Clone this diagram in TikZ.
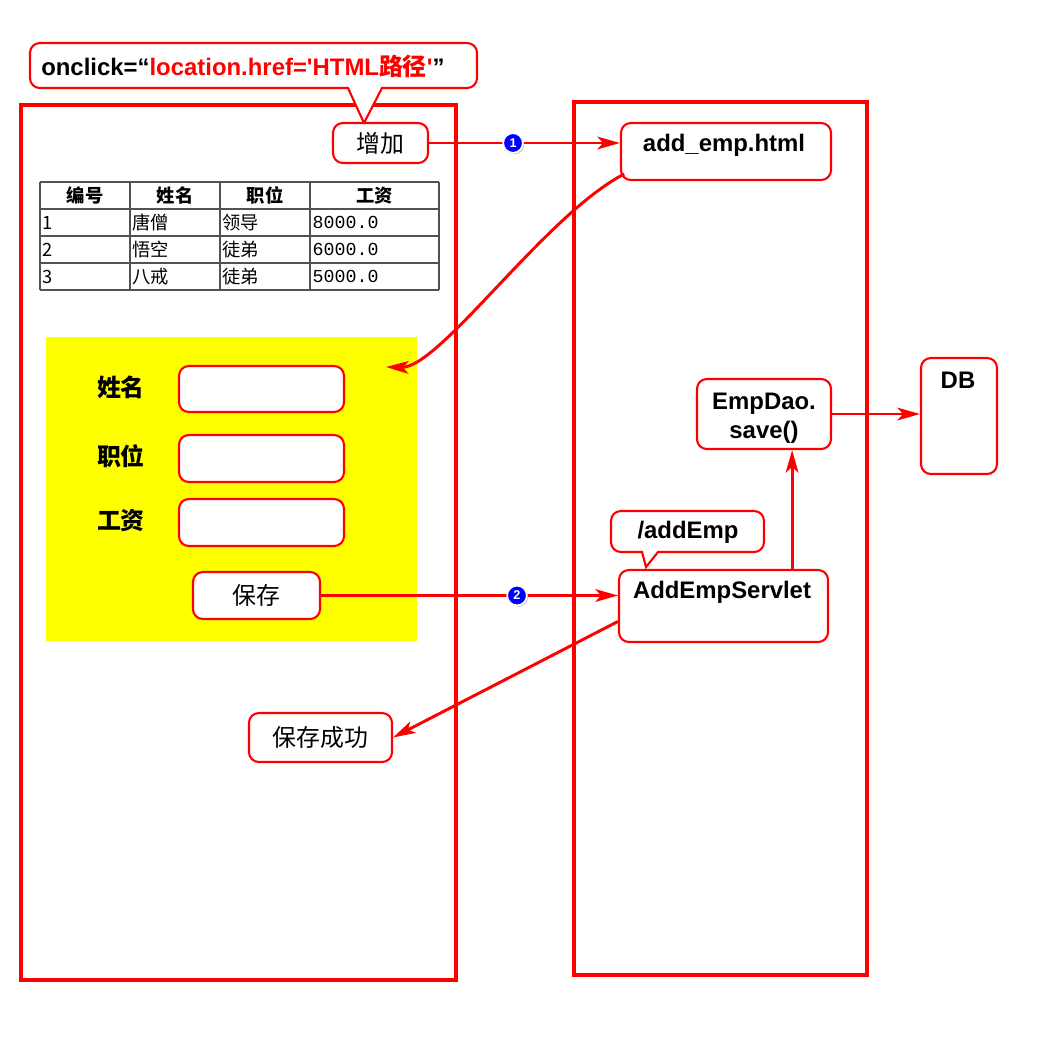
\documentclass[tikz,border=0pt]{standalone}
\usepackage{fontspec}
\setmainfont{Liberation Sans}
\newfontfamily\cjk{Noto Sans CJK SC}
\newfontfamily\mono{Liberation Mono}
\usetikzlibrary{arrows.meta,fit,shadows}
\definecolor{formyellow}{RGB}{255,255,0}

\begin{document}
\begin{tikzpicture}[x=0.025cm, y=-0.025cm, >={Stealth[length=16pt,width=9pt,inset=4pt]},
  frame/.style={draw=red, line width=2.8pt},
  box/.style={draw=red, line width=1.5pt, rounded corners=7pt, fill=white, inner sep=0pt},
  callout/.style={draw=red, line width=1.5pt, fill=white},
  conn/.style={draw=red, line width=2.1pt, ->},
  num/.style={circle, fill=blue, draw=white, line width=1.2pt, text=white, inner sep=0pt,
    minimum size=14pt, font=\bfseries\fontsize{9}{10}\selectfont,
    drop shadow={shadow xshift=1pt, shadow yshift=-1pt, opacity=0.45}},
  lbl/.style={font=\bfseries\fontsize{17}{21}\selectfont},
  cn/.style={font=\cjk\fontsize{17}{19}\selectfont},
  fl/.style={font=\cjk\bfseries\fontsize{17}{19}\selectfont},
  th/.style={font=\cjk\bfseries\fontsize{13}{15}\selectfont},
  td/.style={font=\cjk\fontsize{13}{15}\selectfont, anchor=west, inner sep=1pt},
  grid/.style={draw=black!68, line width=1.3pt}]
  \useasboundingbox (0,0) rectangle (1037,1042);

  % browser page and server
  \draw[frame] (21,105) rectangle (456,980);
  \draw[frame] (574,102) rectangle (867,975);

  % onclick callout
  \draw[callout] (200,43) [rounded corners=7pt] -- (477,43) -- (477,88) [sharp corners] -- (382,88)
    -- (364,123) -- (348,88) [rounded corners=7pt] -- (30,88) -- (30,43) -- cycle;
  \node[lbl, anchor=west, inner sep=0pt] (click) at (41,66)
    {onclick=“\textcolor{red}{location.href=\textquotesingle HTML{\cjk 路径}\textquotesingle}”};

  % add button
  \node[box, fit={(333,123) (428,163)}] (add) {};
  \node[cn] (addT) at (add.center) {增加};

  % employee table
  \foreach \x in {40,130,220,310,439} \draw[grid] (\x,182) -- (\x,290);
  \foreach \y in {182,209,236,263,290} \draw[grid] (40,\y) -- (439,\y);
  \node[th] (h1) at (85,195.5) {编号};
  \node[th] (h2) at (175,195.5) {姓名};
  \node[th] (h3) at (265,195.5) {职位};
  \node[th] (h4) at (374.5,195.5) {工资};
  \foreach \r/\id/\nm/\job/\pay in {1/1/唐僧/领导/8000.0, 2/2/悟空/徒弟/6000.0, 3/3/八戒/徒弟/5000.0} {
    \node[td] (id\r) at (41,{195.5+27*\r}) {\id};
    \node[td] (nm\r) at (131,{195.5+27*\r}) {\nm};
    \node[td] (job\r) at (221,{195.5+27*\r}) {\job};
    \node[td] (pay\r) at (311,{195.5+27*\r}) {\mono\pay};
  }

  % add form
  \fill[formyellow] (46,337) rectangle (417,641);
  \coordinate (formT) at (386,367);
  \node[fl] (fName) at (121,387) {姓名};
  \node[fl] (fJob) at (121,456) {职位};
  \node[fl] (fPay) at (121,521) {工资};
  \node[box, fit={(179,366) (344,412)}] (inName) {};
  \node[box, fit={(179,435) (344,482)}] (inJob) {};
  \node[box, fit={(179,499) (344,546)}] (inPay) {};
  \node[box, fit={(193,572) (320,619)}] (save) {};
  \node[cn] (saveT) at (save.center) {保存};

  % result message
  \node[box, fit={(249,713) (392,762)}] (ok) {};
  \node[cn] (okT) at (ok.center) {保存成功};

  % server side
  \node[box, fit={(621,123) (831,180)}] (html) {};
  \node[lbl] (htmlT) at (724,145) {add\_emp.html};
  \draw[callout] (688,511) [rounded corners=7pt] -- (764,511) -- (764,552) [sharp corners] -- (658,552)
    -- (646,567) -- (642,552) [rounded corners=7pt] -- (611,552) -- (611,511) -- cycle;
  \node[lbl] (url) at (688,532) {/addEmp};
  \node[box, fit={(619,570) (828,642)}] (servlet) {};
  \node[lbl] (servletT) at (722,592) {AddEmpServlet};
  \node[box, fit={(697,379) (831,449)}] (dao) {};
  \node[lbl, align=center] (daoT) at ([yshift=-3pt]dao.center) {EmpDao.\\save()};
  \node[box, fit={(921,358) (997,474)}] (db) {};
  \node[lbl] (dbT) at (958,380) {DB};

  % flow
  \draw[conn] (add.east) -- (add.east -| html.west) node[num, pos=0.44] (n1) {1};
  \draw[conn] ([xshift=3pt,yshift=5pt]html.south west) .. controls (545,215) and (440,368) .. (formT);
  \draw[conn] (save.east) -- (save.east -| servlet.west) node[num, pos=0.66] (n2) {2};
  \draw[conn] ([xshift=20pt]dao.south |- servlet.north) -- ([xshift=20pt]dao.south);
  \draw[conn] (dao.east) -- (dao.east -| db.west);
  \draw[conn] ([yshift=-11pt]servlet.west) -- (ok.east);
\end{tikzpicture}
\end{document}
